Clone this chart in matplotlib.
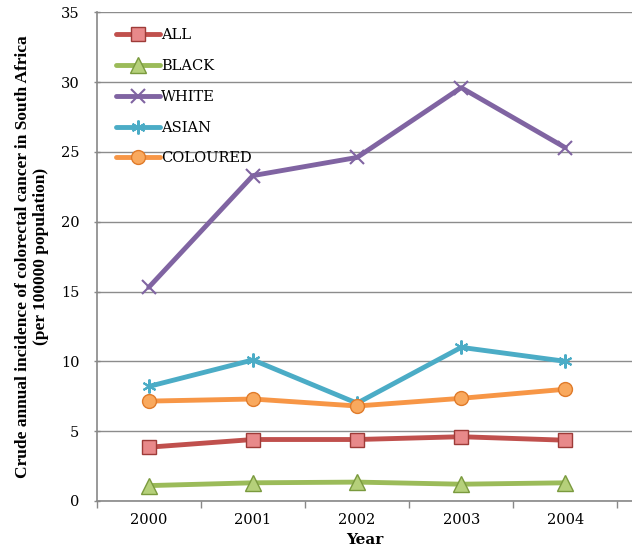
import matplotlib
matplotlib.use("Agg")
import matplotlib.pyplot as plt
import numpy as np

years = ["2000", "2001", "2002", "2003", "2004"]
all_vals = [3.85, 4.4, 4.4, 4.6, 4.35]
black_vals = [1.1, 1.3, 1.35, 1.2, 1.3]
white_vals = [15.3, 23.3, 24.6, 29.6, 25.3]
asian_vals = [8.2, 10.1, 7.0, 11.0, 10.0]
coloured_vals = [7.15, 7.3, 6.8, 7.35, 8.0]

series = [
    ("ALL", all_vals, "#C0504D", "s", "#9E3B38"),
    ("BLACK", black_vals, "#9BBB59", "^", "#7A9A3E"),
    ("WHITE", white_vals, "#8064A2", "x", "#8064A2"),
    ("ASIAN", asian_vals, "#4BACC6", (6, 2, 0), "#4BACC6"),
    ("COLOURED", coloured_vals, "#F79646", "o", "#E07B2A"),
]

fig = plt.figure(figsize=(6.32, 5.56), dpi=100)
ax = fig.add_axes([0.153, 0.099, 0.847, 0.879])
x = np.arange(len(years))
face = {"s": "#E8898A", "^": "#B5D07A", "o": "#F9A95E"}
for name, vals, col, mk, ec in series:
    if mk in ("x",) or isinstance(mk, tuple):
        ax.plot(x, vals, color=col, lw=3.5, marker=mk, markersize=10,
                markeredgewidth=1.5, label=name, solid_capstyle="round")
    else:
        ax.plot(x, vals, color=col, lw=3.5, marker=mk, markersize=10 if mk != "^" else 11,
                markerfacecolor=face[mk], markeredgecolor=ec, markeredgewidth=1.0,
                label=name, solid_capstyle="round")

ax.set_ylim(0, 35)
ax.set_yticks(np.arange(0, 36, 5))
ax.set_xlim(-0.5, 4.64)
ax.set_xticks(x)
ax.set_xticklabels(years, family="DejaVu Serif", fontsize=10.5)
ax.set_xticks(np.arange(-0.5, 4.6, 1.0), minor=True)
ax.tick_params(axis="x", which="major", length=0, pad=9)
ax.tick_params(axis="x", which="minor", length=5, direction="out", color="#888888", width=1)
ax.tick_params(axis="y", length=5, direction="inout", color="#888888", width=1, pad=10)
for lab in ax.get_yticklabels():
    lab.set_family("DejaVu Serif")
    lab.set_fontsize(10.5)
ax.yaxis.grid(True, color="#8c8c8c", lw=1)
ax.set_axisbelow(True)
for s in ["top", "right"]:
    ax.spines[s].set_visible(False)
for s in ["left", "bottom"]:
    ax.spines[s].set_color("#888888")
    ax.spines[s].set_linewidth(1.2)

ax.set_xlabel("Year", family="DejaVu Serif", fontweight="bold", fontsize=11, labelpad=4)
ax.set_ylabel("Crude annual incidence of colorectal cancer in South Africa\n(per 100000 population)",
              family="Liberation Serif", fontweight="bold", fontsize=12.5, labelpad=8,
              linespacing=1.2)

leg = ax.legend(loc="upper left", bbox_to_anchor=(0.02, 0.985), frameon=False,
                prop={"family": "DejaVu Serif", "size": 10.5}, handlelength=3.0,
                handletextpad=0.1, labelspacing=1.15, borderaxespad=0.2)

fig.savefig("out.png", dpi=100)
